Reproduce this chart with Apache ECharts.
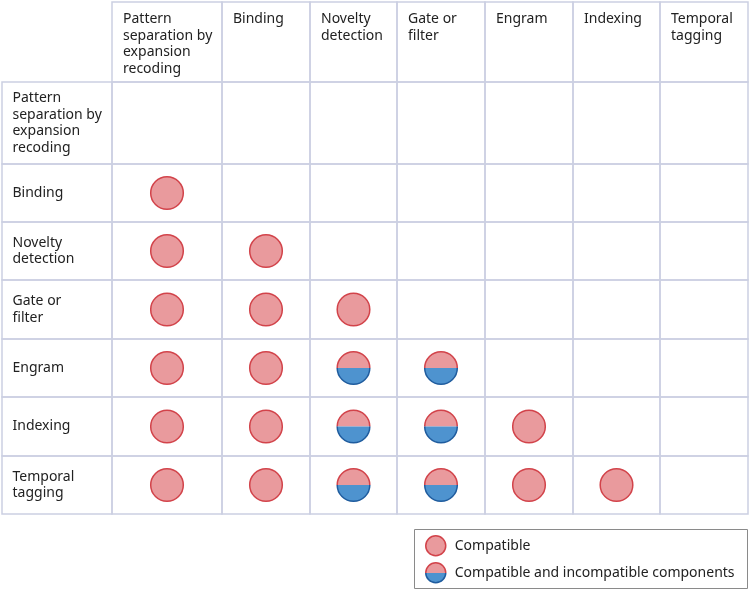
<!DOCTYPE html>
<html>
<head>
<meta charset="utf-8">
<script src="https://cdn.jsdelivr.net/npm/echarts@6/dist/echarts.min.js"></script>
<style>
html,body{margin:0;padding:0;background:#fff;}
#chart{width:750px;height:591px;}
</style>
</head>
<body>
<div id="chart"></div>
<script>
// ---- data ----
const columnLabels = ['Pattern\nseparation by\nexpansion\nrecoding', 'Binding', 'Novelty\ndetection', 'Gate or\nfilter', 'Engram', 'Indexing', 'Temporal\ntagging'];
const rowLabels = ['Pattern\nseparation by\nexpansion\nrecoding', 'Binding', 'Novelty\ndetection', 'Gate or\nfilter', 'Engram', 'Indexing', 'Temporal\ntagging'];
// [columnIndex, rowIndex]
const compatiblePairs = [[0,1],[0,2],[1,2],[0,3],[1,3],[2,3],[0,4],[1,4],[0,5],[1,5],[4,5],[0,6],[1,6],[4,6],[5,6]];
const mixedPairs = [[2,4],[3,4],[2,5],[3,5],[2,6],[3,6]];
const legendNames = ['Compatible', 'Compatible and incompatible components'];

// ---- layout (table geometry in page units) ----
const colEdges = [2, 112, 222, 310, 397, 485, 573, 660, 748];
const rowEdges = [2, 82, 164, 222, 280, 339, 397, 456, 514];
const PINK = '#e99a9d', RED = '#d2434a', BLUE = '#4e93cf', DBLUE = '#1f5c9e';
const GRIDC = '#cbd0e2', TEXTC = '#222222';
const FONT = 'Noto Sans';
const R = 16.3;

// table cells: [tableCol, tableRow] (0 = header)
const cells = [];
for (let r = 0; r <= rowLabels.length; r++) {
  for (let c = 0; c <= columnLabels.length; c++) {
    if (r === 0 && c === 0) continue;
    cells.push([c, r]);
  }
}

function cellBox(api, c, r) {
  const p0 = api.coord([colEdges[c], rowEdges[r]]);
  const p1 = api.coord([colEdges[c + 1], rowEdges[r + 1]]);
  return {x: p0[0], y: p0[1], w: p1[0] - p0[0], h: p1[1] - p0[1]};
}

const chart = echarts.init(document.getElementById('chart'), null, {renderer: 'canvas'});
const option = {
  animation: false,
  backgroundColor: '#fff',
  grid: {left: 0, right: 0, top: 0, bottom: 0},
  xAxis: {type: 'value', min: 0, max: 750, show: false},
  yAxis: {type: 'value', min: 0, max: 591, inverse: true, show: false},
  legend: {
    show: true,
    orient: 'vertical',
    left: 414, top: 529,
    padding: [6, 10, 6, 11],
    itemWidth: 20, itemHeight: 20, itemGap: 5.5,
    selectedMode: false,
    textStyle: {fontSize: 14, fontFamily: FONT, color: TEXTC, padding: [0, 0, 0, 4]},
    data: [
      {name: legendNames[0], icon: 'circle', itemStyle: {color: PINK, borderColor: RED, borderWidth: 1.5}},
      {name: legendNames[1], icon: 'circle', itemStyle: {
        color: {type: 'linear', x: 0, y: 0, x2: 0, y2: 1, colorStops: [
          {offset: 0, color: PINK}, {offset: 0.5, color: PINK}, {offset: 0.5, color: BLUE}, {offset: 1, color: BLUE}]},
        borderColor: {type: 'linear', x: 0, y: 0, x2: 0, y2: 1, colorStops: [
          {offset: 0, color: RED}, {offset: 0.5, color: RED}, {offset: 0.5, color: DBLUE}, {offset: 1, color: DBLUE}]},
        borderWidth: 1.5}}
    ]
  },
  graphic: [{
    type: 'rect', silent: true,
    shape: {x: 414.5, y: 529.5, width: 333, height: 59},
    style: {fill: 'none', stroke: '#8a8a8a', lineWidth: 1}
  }],
  series: [
    {
      name: 'table', type: 'custom', silent: true, z: 1,
      data: cells,
      renderItem: function (params, api) {
        const c = api.value(0), r = api.value(1);
        const b = cellBox(api, c, r);
        const children = [{
          type: 'rect',
          shape: {x: b.x, y: b.y, width: b.w, height: b.h},
          style: {fill: 'none', stroke: GRIDC, lineWidth: 1.5}
        }];
        if (r === 0) {
          children.push({type: 'text', style: {
            text: columnLabels[c - 1], x: b.x + 11, y: b.y + 8.5,
            fill: TEXTC, fontSize: 14, fontFamily: FONT, lineHeight: 16.7,
            align: 'left', verticalAlign: 'top'}});
        } else if (c === 0) {
          children.push({type: 'text', style: {
            text: rowLabels[r - 1], x: b.x + 10.5, y: b.y + b.h / 2,
            fill: TEXTC, fontSize: 14, fontFamily: FONT, lineHeight: 16.7,
            align: 'left', verticalAlign: 'middle'}});
        }
        return {type: 'group', children: children};
      }
    },
    {
      name: legendNames[0], type: 'custom', z: 3,
      itemStyle: {color: PINK},
      data: compatiblePairs,
      renderItem: function (params, api) {
        const b = cellBox(api, api.value(0) + 1, api.value(1) + 1);
        return {type: 'circle', shape: {cx: b.x + b.w / 2, cy: b.y + b.h / 2, r: R},
          style: {fill: PINK, stroke: RED, lineWidth: 1.5}};
      }
    },
    {
      name: legendNames[1], type: 'custom', z: 3,
      itemStyle: {color: BLUE},
      data: mixedPairs,
      renderItem: function (params, api) {
        const b = cellBox(api, api.value(0) + 1, api.value(1) + 1);
        const cx = b.x + b.w / 2, cy = b.y + b.h / 2;
        return {type: 'group', children: [
          {type: 'sector', shape: {cx: cx, cy: cy, r: R, r0: 0, startAngle: Math.PI, endAngle: 2 * Math.PI, clockwise: true}, style: {fill: PINK}},
          {type: 'sector', shape: {cx: cx, cy: cy, r: R, r0: 0, startAngle: 0, endAngle: Math.PI, clockwise: true}, style: {fill: BLUE}},
          {type: 'arc', shape: {cx: cx, cy: cy, r: R, startAngle: Math.PI, endAngle: 2 * Math.PI, clockwise: true}, style: {fill: 'none', stroke: RED, lineWidth: 1.5}},
          {type: 'arc', shape: {cx: cx, cy: cy, r: R, startAngle: 0, endAngle: Math.PI, clockwise: true}, style: {fill: 'none', stroke: DBLUE, lineWidth: 1.5}}
        ]};
      }
    }
  ]
};
chart.setOption(option);
</script>
</body>
</html>
